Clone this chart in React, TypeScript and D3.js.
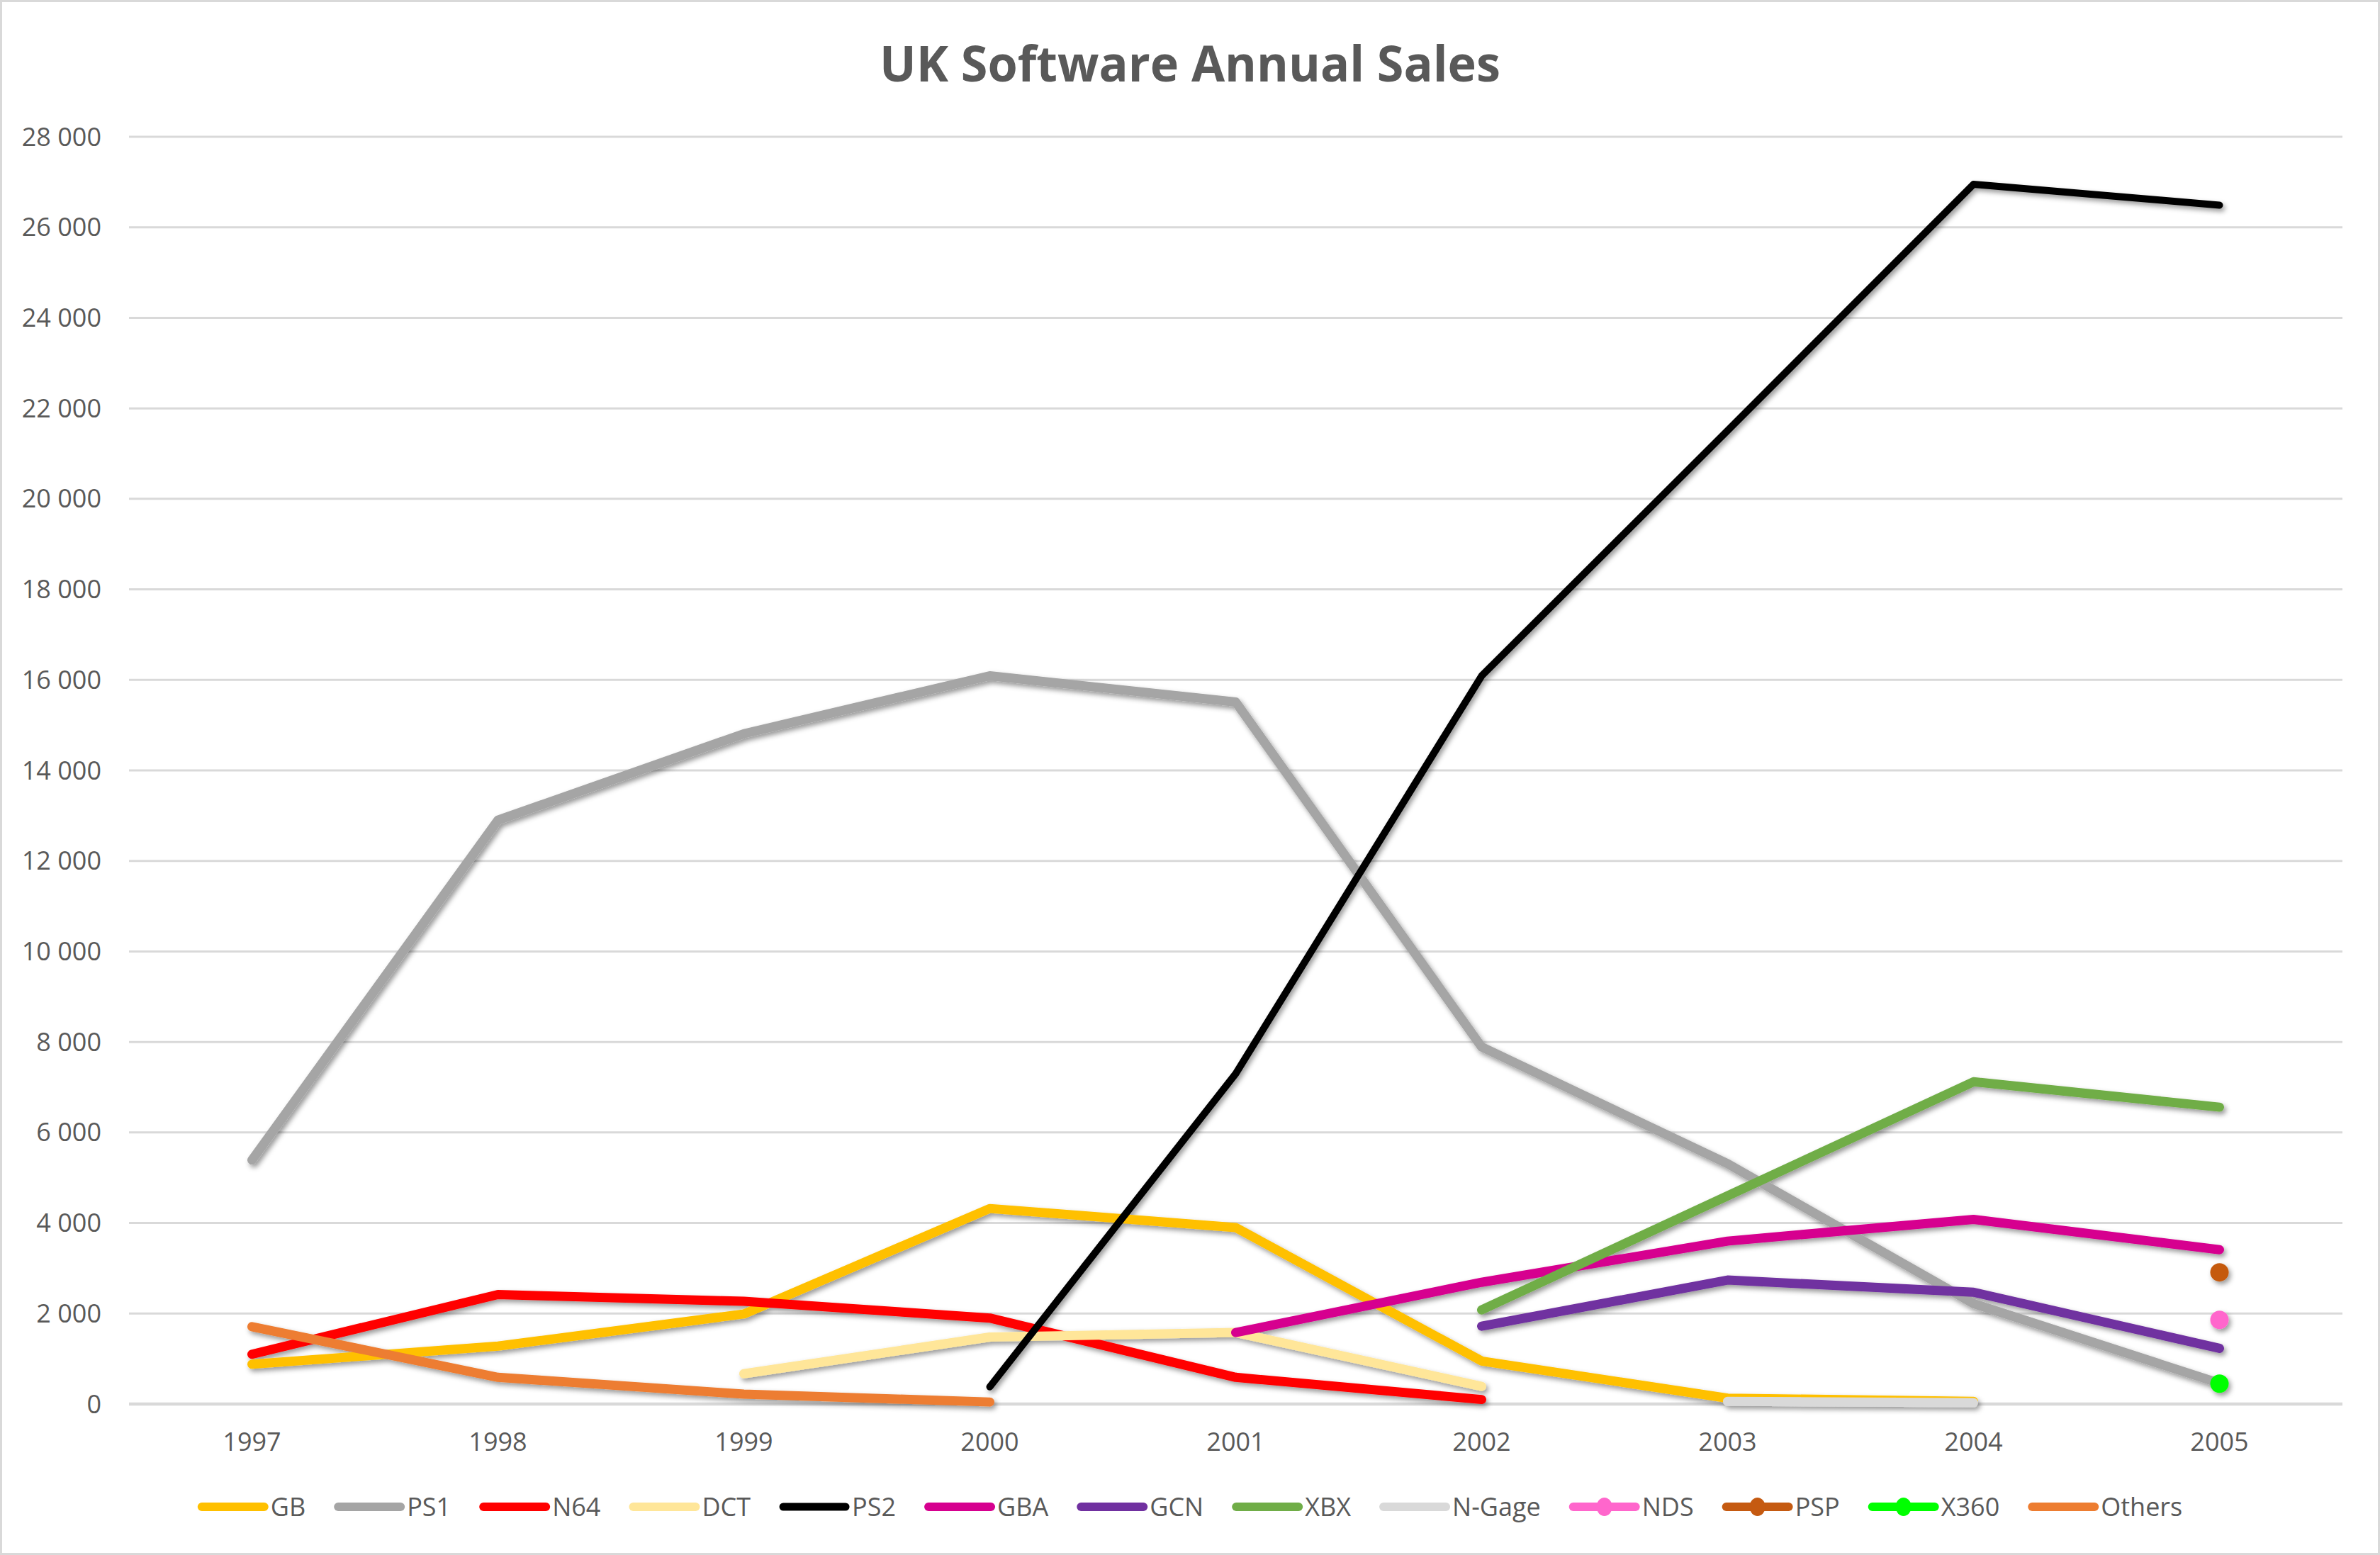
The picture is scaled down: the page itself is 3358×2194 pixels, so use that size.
import { useMemo } from 'react'
import * as d3 from 'd3'

const W = 3358
const H = 2194
const FONT = "'Open Sans', sans-serif"
const TEXT = '#595959'
const GRID = '#D9D9D9'

const years = ['1997', '1998', '1999', '2000', '2001', '2002', '2003', '2004', '2005']
const yTicks = [0, 2000, 4000, 6000, 8000, 10000, 12000, 14000, 16000, 18000, 20000, 22000, 24000, 26000, 28000]

type V = number | null

const gb: V[] = [880, 1280, 1990, 4320, 3900, 950, 130, 60, null]
const ps1: V[] = [5390, 12900, 14810, 16090, 15510, 7890, 5310, 2220, 460]
const n64: V[] = [1100, 2420, 2270, 1900, 590, 100, null, null, null]
const dct: V[] = [null, null, 670, 1480, 1580, 390, null, null, null]
const ps2: V[] = [null, null, null, 380, 7300, 16090, 21510, 26950, 26490]
const gba: V[] = [null, null, null, null, 1580, 2690, 3600, 4080, 3410]
const gcn: V[] = [null, null, null, null, null, 1720, 2740, 2470, 1230]
const xbx: V[] = [null, null, null, null, null, 2080, 4600, 7120, 6560]
const ngage: V[] = [null, null, null, null, null, null, 60, 30, null]
const nds: V[] = [null, null, null, null, null, null, null, null, 1860]
const psp: V[] = [null, null, null, null, null, null, null, null, 2910]
const x360: V[] = [null, null, null, null, null, null, null, null, 450]
const others: V[] = [1710, 590, 220, 45, null, null, null, null, null]

const seriesNames = ['GB', 'PS1', 'N64', 'DCT', 'PS2', 'GBA', 'GCN', 'XBX', 'N-Gage', 'NDS', 'PSP', 'X360', 'Others']
const seriesColors = ['#FFC000', '#A5A5A5', '#FF0000', '#FFE699', '#000000', '#D6008F', '#7030A0', '#70AD47', '#D9D9D9', '#FF66CC', '#C55A11', '#00FF00', '#ED7D31']
const seriesValues = [gb, ps1, n64, dct, ps2, gba, gcn, xbx, ngage, nds, psp, x360, others]
const markerSeries = ['NDS', 'PSP', 'X360']

const fmt = d3.formatLocale({ decimal: '.', thousands: ' ', grouping: [3], currency: ['', ''] }).format(',')

export default function App() {
  const margin = { top: 193, right: 53, bottom: 213, left: 182 }

  const x = d3.scaleBand<string>().domain(years).range([margin.left, W - margin.right]).padding(0)
  const y = d3.scaleLinear().domain([0, 28000]).range([H - margin.bottom, margin.top])
  const cx = (yr: string) => (x(yr) ?? 0) + x.bandwidth() / 2

  const line = d3
    .line<V>()
    .defined((d) => d !== null)
    .x((_, i) => cx(years[i]))
    .y((d) => y(d as number))

  // legend layout: measure label widths, centre the row
  const legend = useMemo(() => {
    const ctx = document.createElement('canvas').getContext('2d')!
    ctx.font = `36px ${FONT}`
    const sample = 100
    const gap = 3
    const spacing = 40
    const widths = seriesNames.map((n) => sample + gap + ctx.measureText(n).width)
    const total = d3.sum(widths) + spacing * (widths.length - 1)
    let pos = W / 2 - total / 2
    return widths.map((w) => {
      const start = pos
      pos += w + spacing
      return start
    })
  }, [])

  const legendY = 2126

  return (
    <>
      <style>{'body{margin:0}'}</style>
      <svg width={W} height={H} style={{ display: 'block' }} fontFamily={FONT}>
        <defs>
          <filter id="shadow" filterUnits="userSpaceOnUse" x={0} y={0} width={W} height={H}>
            <feDropShadow dx={3} dy={4} stdDeviation={3.5} floodColor="#000" floodOpacity={0.4} />
          </filter>
        </defs>
        <rect x={1.5} y={1.5} width={W - 3} height={H - 3} fill="#fff" stroke={GRID} strokeWidth={3} />

        <text x={W / 2} y={115} textAnchor="middle" fontSize={70} fontWeight={700} fill={TEXT} textLength={876} lengthAdjust="spacingAndGlyphs">
          UK Software Annual Sales
        </text>

        {/* grid */}
        {yTicks.filter((t) => t > 0).map((t) => (
          <line key={t} x1={margin.left} x2={W - margin.right} y1={y(t)} y2={y(t)} stroke={GRID} strokeWidth={3} />
        ))}
        <line x1={margin.left} x2={W - margin.right} y1={y(0)} y2={y(0)} stroke={GRID} strokeWidth={4.5} />

        {yTicks.map((t) => (
          <text key={t} x={143} y={y(t)} dy="0.35em" textAnchor="end" fontSize={36} fill={TEXT}>
            {fmt(t)}
          </text>
        ))}

        {years.map((yr) => (
          <text key={yr} x={cx(yr)} y={2047} textAnchor="middle" fontSize={36} fill={TEXT}>
            {yr}
          </text>
        ))}

        {/* series */}
        <g filter="url(#shadow)">
          {seriesValues.map((vals, si) => {
            const name = seriesNames[si]
            const color = seriesColors[si]
            if (markerSeries.includes(name)) {
              return (
                <g key={name}>
                  {vals.map((v, i) =>
                    v === null ? null : <ellipse key={i} cx={cx(years[i])} cy={y(v)} rx={13} ry={13} fill={color} />,
                  )}
                </g>
              )
            }
            return (
              <path
                key={name}
                d={line(vals) ?? ''}
                fill="none"
                stroke={color}
                strokeWidth={name === 'PS2' ? 10 : 13}
                strokeLinecap="round"
                strokeLinejoin="round"
              />
            )
          })}
        </g>

        {/* legend */}
        {seriesNames.map((name, i) => {
          const x0 = legend[i]
          const color = seriesColors[i]
          return (
            <g key={name}>
              <line x1={x0 + 6} x2={x0 + 94} y1={legendY} y2={legendY} stroke={color} strokeWidth={name === 'PS2' ? 11 : 12} strokeLinecap="round" />
              {markerSeries.includes(name) && <ellipse cx={x0 + 50} cy={legendY} rx={11} ry={13} fill={color} />}
              <text x={x0 + 103} y={legendY} dy="0.35em" fontSize={36} fill={TEXT}>
                {name}
              </text>
            </g>
          )
        })}
      </svg>
    </>
  )
}
